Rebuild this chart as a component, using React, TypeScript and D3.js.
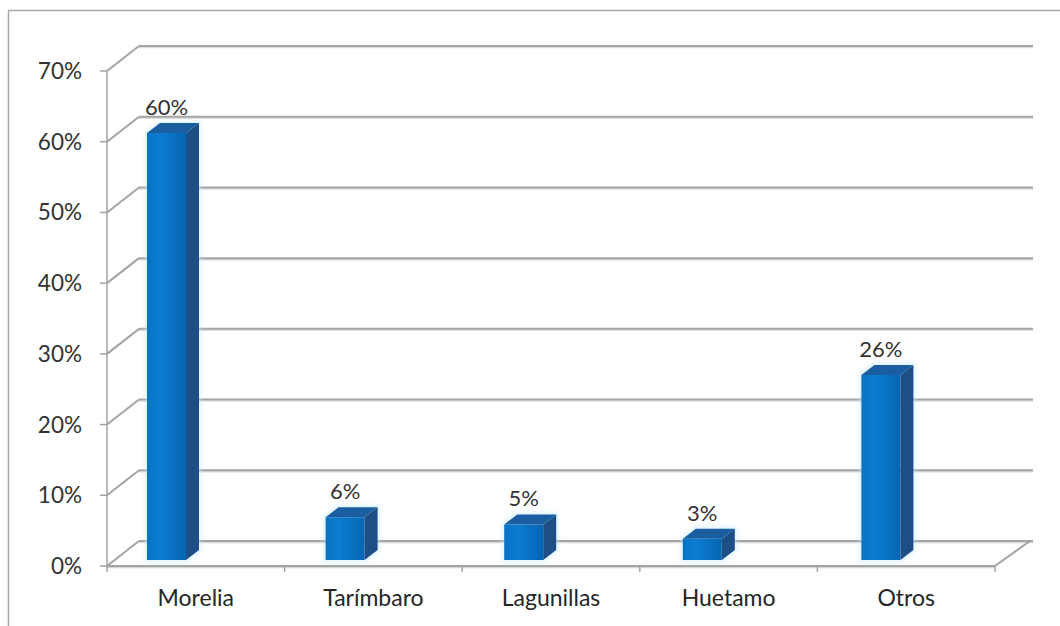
import React from "react";
import * as d3 from "d3";

const categories = ["Morelia", "Tarímbaro", "Lagunillas", "Huetamo", "Otros"];
const values = [0.6, 0.06, 0.05, 0.03, 0.26];
const yTicks = [0, 0.1, 0.2, 0.3, 0.4, 0.5, 0.6, 0.7];

const W = 1060;
const H = 626;

export default function App() {
  // front plane (axis) scales
  const xFront = d3.scaleBand<string>().domain(categories).range([107, 995]).padding(0);
  const yFront = d3.scaleLinear().domain([0, 0.7]).range([566, 71]);
  // bar plane scales (slightly behind the front plane)
  const xBar = d3.scaleBand<string>().domain(categories).range([107, 1000]).padding(0);
  const yBar = d3.scaleLinear().domain([0, 0.6]).range([560, 133]);

  const depthX = 32;
  const depthY = -25;
  const wallRight = 1033;
  const barOff = 40;
  const barW = 39;
  const bdx = 13;
  const bdy = -10;
  const fmt = d3.format(".0%");
  const gridColor = "#a3a3a3";
  const font = "Lato, 'Open Sans', sans-serif";

  return (
    <svg
      width={W}
      height={H}
      style={{ position: "absolute", left: 0, top: 0, background: "#fff" }}
      fontFamily={font}
    >
      <defs>
        <linearGradient id="front" x1="0" x2="1" y1="0" y2="0">
          <stop offset="0%" stopColor="#0a74c4" />
          <stop offset="35%" stopColor="#0b7cd0" />
          <stop offset="100%" stopColor="#0565b3" />
        </linearGradient>
        <filter id="glow" x="-30%" y="-30%" width="160%" height="160%">
          <feGaussianBlur stdDeviation="2" />
        </filter>
      </defs>
      {/* outer border */}
      <rect x={8.5} y={10.5} width={1100} height={700} fill="none" stroke="#a9a9a9" strokeWidth={1.5} />

      {/* back wall gridlines + side wall diagonals */}
      {yTicks.map((t) => {
        const y = yFront(t);
        return (
          <g key={"g" + t}>
            <line x1={107 + depthX} y1={y + depthY + 1.5} x2={wallRight} y2={y + depthY + 1.5} stroke="#dcdcdc" strokeWidth={1.5} />
            <line x1={107 + depthX} y1={y + depthY} x2={wallRight} y2={y + depthY} stroke={gridColor} strokeWidth={2} />
            <line x1={107} y1={y} x2={107 + depthX} y2={y + depthY} stroke={gridColor} strokeWidth={2} />
          </g>
        );
      })}

      {/* floor */}
      <line x1={107} y1={yFront(0) + 1.5} x2={995} y2={yFront(0) + 1.5} stroke="#d6d6d6" strokeWidth={1.5} />
      <line x1={107} y1={yFront(0)} x2={995} y2={yFront(0)} stroke={gridColor} strokeWidth={2} />
      <line x1={995} y1={yFront(0)} x2={995 + 35} y2={yFront(0) + depthY} stroke={gridColor} strokeWidth={2} />

      {/* front vertical axis */}
      <line x1={107} y1={yFront(0.7)} x2={107} y2={yFront(0) + 6} stroke={gridColor} strokeWidth={1.5} />
      {yTicks.map((t) => (
        <g key={"t" + t}>
          <line x1={100} y1={yFront(t)} x2={107} y2={yFront(t)} stroke={gridColor} strokeWidth={1.5} />
          <text x={82} y={yFront(t) + 8} textAnchor="end" fontSize={22.5} fill="#333">
            {fmt(t)}
          </text>
        </g>
      ))}

      {/* category ticks */}
      {categories.map((c) => (
        <line key={"ct" + c} x1={xFront(c)! + xFront.bandwidth()} y1={yFront(0)} x2={xFront(c)! + xFront.bandwidth()} y2={yFront(0) + 6} stroke={gridColor} strokeWidth={1.5} />
      ))}

      {/* bars */}
      {categories.map((c, i) => {
        const x0 = xBar(c)! + barOff;
        const x1 = x0 + barW;
        const yt = yBar(values[i]);
        const yb = yBar(0);
        const front = `M${x0},${yt}L${x1},${yt}L${x1},${yb}L${x0},${yb}Z`;
        const side = `M${x1},${yt}L${x1 + bdx},${yt + bdy}L${x1 + bdx},${yb + bdy}L${x1},${yb}Z`;
        const top = `M${x0},${yt}L${x0 + bdx},${yt + bdy}L${x1 + bdx},${yt + bdy}L${x1},${yt}Z`;
        const outline = `M${x0},${yt}L${x0 + bdx},${yt + bdy}L${x1 + bdx},${yt + bdy}L${x1 + bdx},${yb + bdy}L${x1},${yb}L${x0},${yb}Z`;
        return (
          <g key={"b" + c}>
            <path d={outline} fill="none" stroke="#bfe9ff" strokeWidth={4} opacity={0.6} filter="url(#glow)" />
            <path d={front} fill="url(#front)" />
            <path d={side} fill="#1d4f86" />
            <path d={top} fill="#1a5da0" />
            <text x={(x0 + x1) / 2} y={yt - 18} textAnchor="middle" fontSize={22} fill="#333">
              {fmt(values[i])}
            </text>
          </g>
        );
      })}

      {/* category labels */}
      {categories.map((c) => (
        <text key={"cl" + c} x={xFront(c)! + xFront.bandwidth() / 2} y={606} textAnchor="middle" fontSize={23} fill="#262626">
          {c}
        </text>
      ))}
    </svg>
  );
}
